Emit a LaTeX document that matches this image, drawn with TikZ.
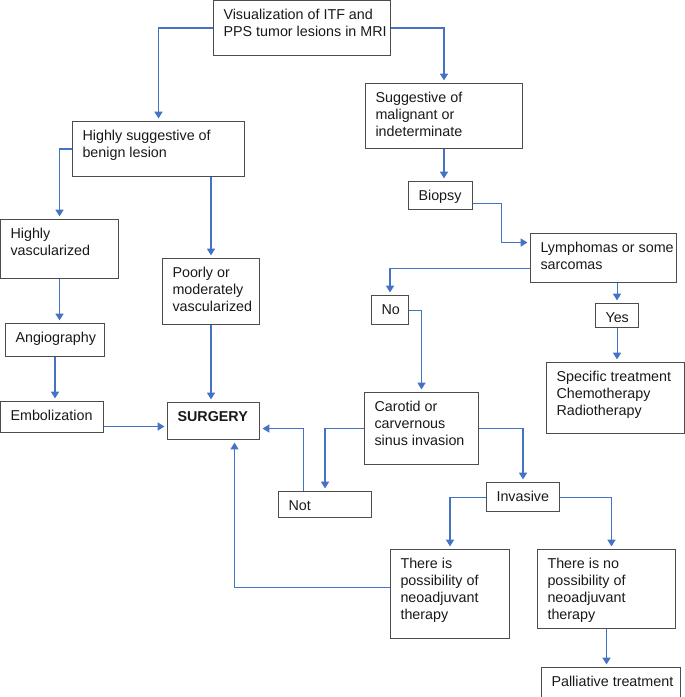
\documentclass[tikz,border=0pt]{standalone}
\usepackage{fontspec}
\setmainfont{Liberation Sans}
\usetikzlibrary{positioning, arrows.meta, calc}

\definecolor{flowblue}{HTML}{4472C4}
% fixed-size box text, lines at the top
\newcommand{\boxtext}[3]{\parbox[c][#2][t]{#1}{\begin{tabular}[t]{@{}l@{}}#3\end{tabular}}}

\begin{document}
\begin{tikzpicture}[
  x=0.02cm, y=-0.02cm,
  box/.style={draw=black!70, line width=0.6pt, anchor=north west, inner xsep=0.2cm, inner ysep=0.14cm,
    text=black!90, font=\fontsize{8.15}{9.7}\selectfont},
  flow/.style={-{Triangle[length=3.8pt, width=4.6pt]}, draw=flowblue, line width=0.6pt, shorten >=1.5pt},
]
\useasboundingbox (0,0) rectangle (685,697);

% =========================
% Top: MRI and first split
% =========================
\node[box] (vis)    at (213,0)   {\boxtext{3.14cm}{0.82cm}{Visualization of ITF and\\PPS tumor lesions in MRI}};
\node[box] (benign) at (72,121)  {\boxtext{3.04cm}{0.82cm}{Highly suggestive of\\benign lesion}};
\node[box] (malig)  at (365,83)  {\boxtext{2.74cm}{1.02cm}{Suggestive of\\malignant or\\indeterminate}};

% =========================
% Benign branch
% =========================
\node[box] (hvasc)   at (0,219)   {\boxtext{1.96cm}{0.90cm}{Highly\\vascularized}};
\node[box] (poorly)  at (162,258) {\boxtext{1.54cm}{1.04cm}{Poorly or\\moderately\\vascularized}};
\node[box] (angio)   at (5,323)   {\boxtext{1.58cm}{0.38cm}{Angiography}};
\node[box] (emb)     at (0,401)   {\boxtext{1.66cm}{0.34cm}{Embolization}};
\node[box] (surgery) at (167,402) {\boxtext{1.44cm}{0.46cm}{\textbf{SURGERY}}};

% =========================
% Malignant branch
% =========================
\node[box] (biopsy)   at (408,181) {\boxtext{0.88cm}{0.28cm}{Biopsy}};
\node[box] (lymph)    at (530,233) {\boxtext{2.52cm}{0.70cm}{Lymphomas or some\\sarcomas}};
\node[box] (no)       at (371,295) {\boxtext{0.34cm}{0.30cm}{No}};
\node[box] (yes)      at (595,303) {\boxtext{0.46cm}{0.20cm}{Yes}};
\node[box] (spec)     at (546,362) {\boxtext{2.36cm}{1.14cm}{Specific treatment\\Chemotherapy\\Radiotherapy}};
\node[box] (carotid)  at (364,392) {\boxtext{1.88cm}{1.16cm}{Carotid or\\carvernous\\sinus invasion}};
\node[box] (notbox)   at (278,491) {\boxtext{1.46cm}{0.24cm}{Not}};
\node[box] (invasive) at (486,482) {\boxtext{1.06cm}{0.30cm}{Invasive}};
\node[box] (poss)     at (390,549) {\boxtext{1.98cm}{1.50cm}{There is\\possibility of\\neoadjuvant\\therapy}};
\node[box] (noposs)   at (537,549) {\boxtext{2.36cm}{1.30cm}{There is no\\possibility of\\neoadjuvant\\therapy}};
\node[box] (palli)    at (541,667) {\boxtext{2.38cm}{0.32cm}{Palliative treatment}};

% =========================
% Connectors
% =========================
\draw[flow] (vis.west) -| (benign.north);
\draw[flow] (vis.east) -| (malig.north);

% straight drops
\foreach \a/\b in {malig/biopsy, yes/spec, noposs/palli, hvasc/angio, angio/emb, poorly/surgery} {
  \draw[flow] (\a.south) -- (\a.south |- \b.north);
}
\draw[flow] (poorly.north |- benign.south) -- (poorly.north);
\draw[flow] (yes.north |- lymph.south) -- (yes.north);

\draw[flow] (benign.west) -| (hvasc.north);
\draw[flow] ([yshift=-0.19cm]emb.east) -- ([yshift=-0.19cm]emb.east -| surgery.west);

\draw[flow] ([yshift=-0.16cm]biopsy.east) -- ++(28,0) |- ([yshift=0.31cm]lymph.west);
\draw[flow] ([yshift=-0.21cm]lymph.west) -| (no.north);
\draw[flow] (no.east) -| (carotid.north);
\draw[flow] (carotid.west) -| (notbox.north);
\draw[flow] ([xshift=-0.43cm]notbox.north) |- ([yshift=-0.15cm]surgery.east);
\draw[flow] (carotid.east) -| (invasive.north);
\draw[flow] (invasive.west) -| (poss.north);
\draw[flow] (invasive.east) -| ([xshift=0.1cm]noposs.north);
\draw[flow] ([yshift=0.13cm]poss.west) -| ([xshift=0.42cm]surgery.south);

\end{tikzpicture}
\end{document}
